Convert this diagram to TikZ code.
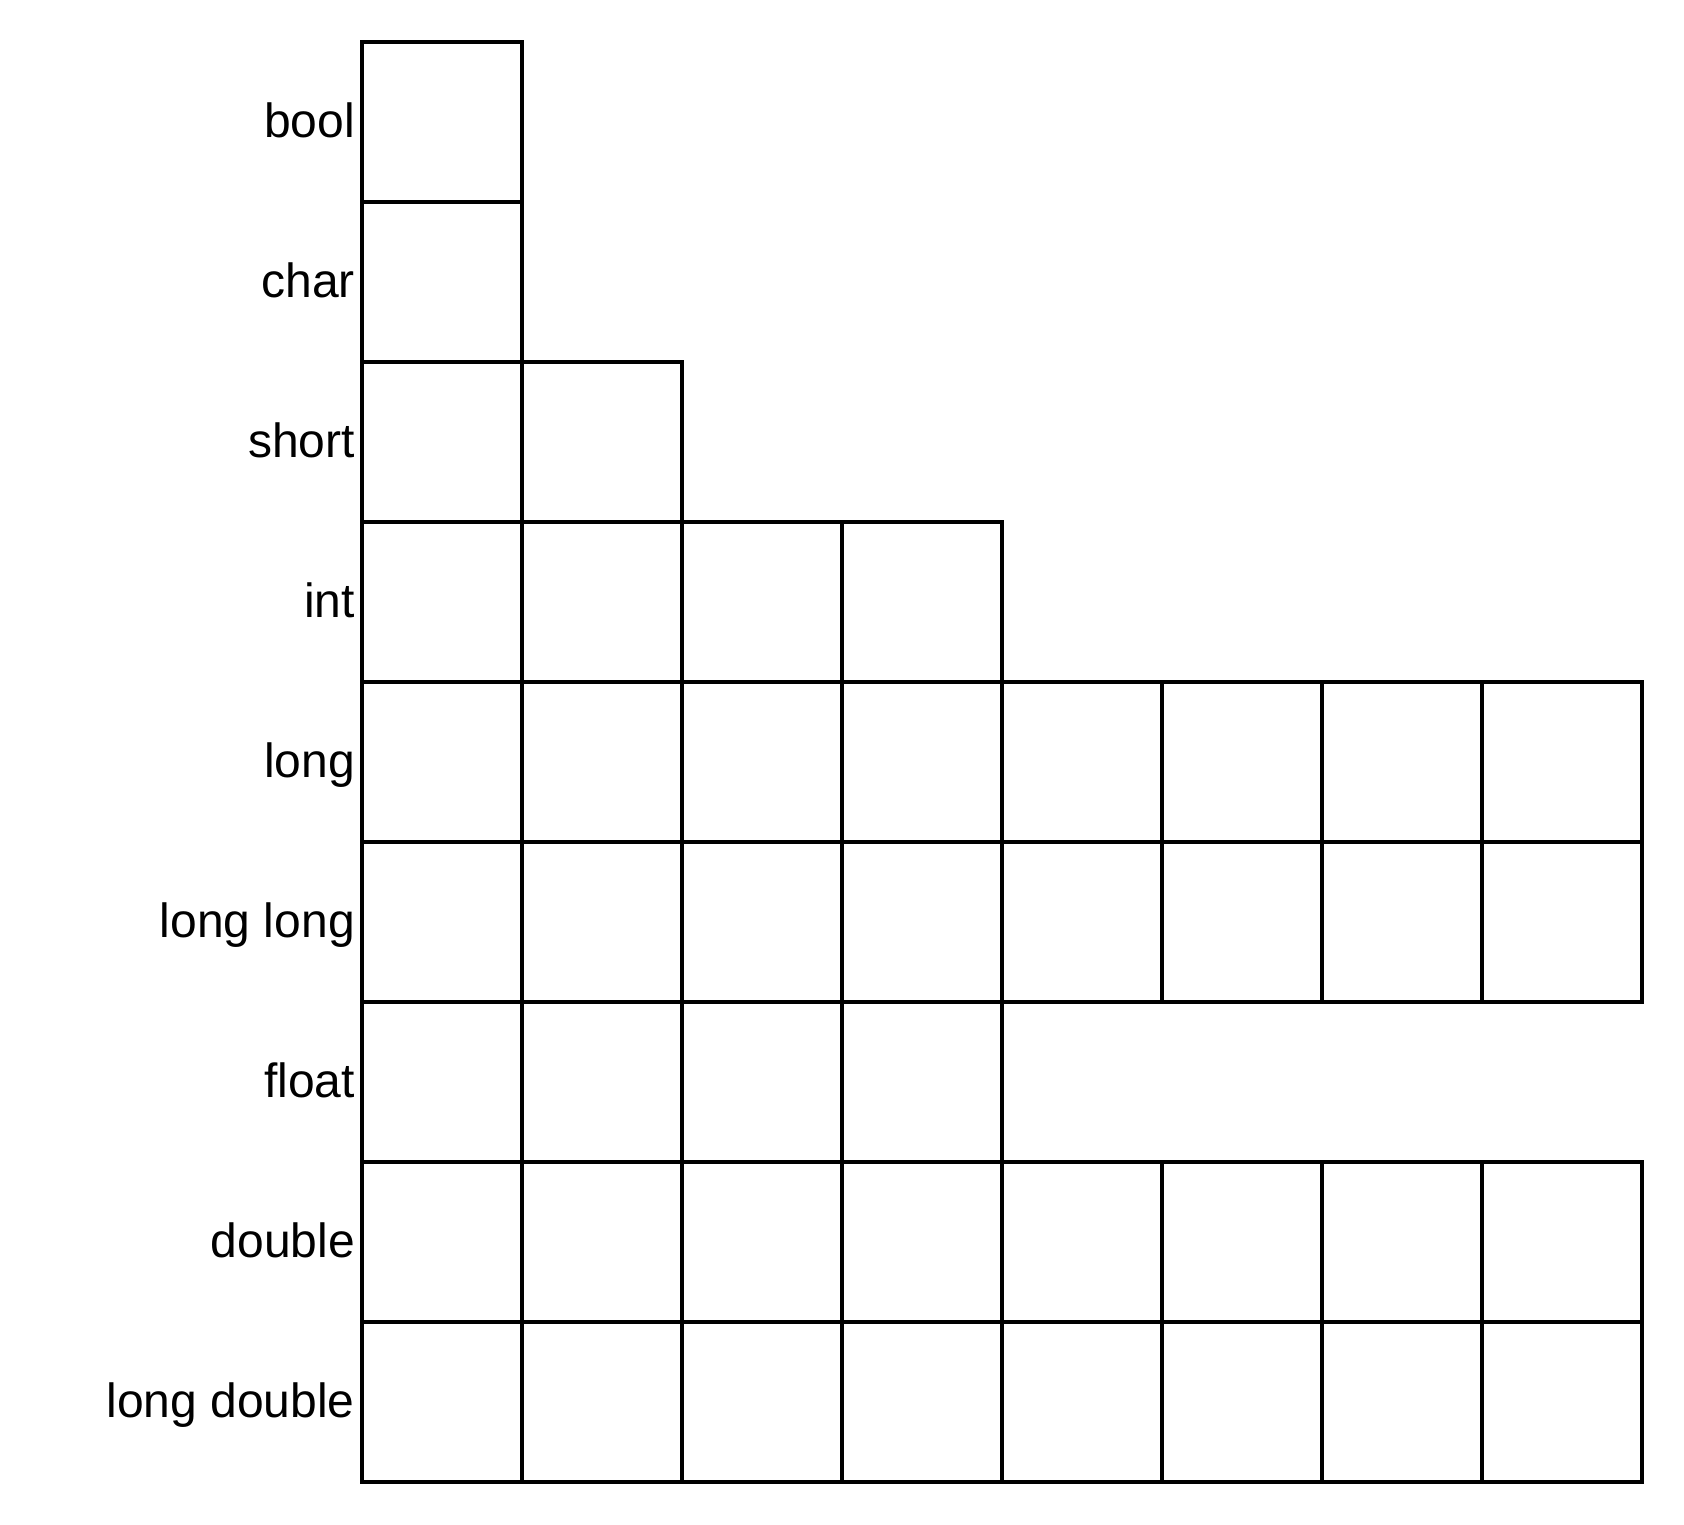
\documentclass[tikz,border=0pt]{standalone}
\usepackage{fontspec}
\setmainfont{Liberation Sans}
\begin{document}
\begin{tikzpicture}[x=1pt,y=-1pt,
  cell/.style={draw=black,line width=3.3pt,minimum width=160pt,minimum height=160pt,inner sep=0pt,outer sep=0pt},
  lbl/.style={anchor=base east,inner sep=0pt,font=\fontsize{48}{58}\selectfont}]
\useasboundingbox (0,0) rectangle (1684,1524);
\foreach \r/\name/\n in {0/bool/1,1/char/1,2/short/2,3/int/4,4/long/8,5/long long/8,6/float/4,7/double/8,8/long double/8}{
  \node[lbl] (lab-\r) at (355,{42+80+160*\r+15}) {\name};
  \foreach \c in {1,...,\n}{
    \node[cell] (c-\r-\c) at ({362+80+160*(\c-1)},{42+80+160*\r}) {};
  }
}
\end{tikzpicture}
\end{document}
